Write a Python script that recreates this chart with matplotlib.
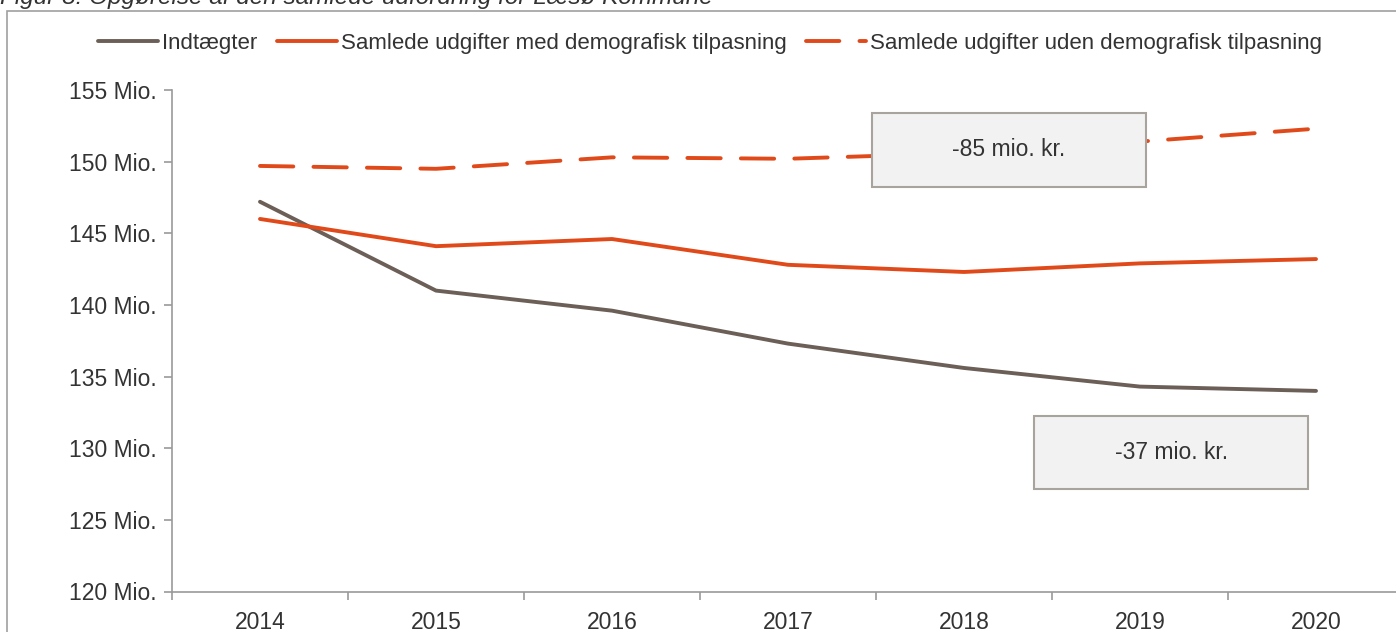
import matplotlib
matplotlib.use("Agg")
import matplotlib.pyplot as plt
from matplotlib.patches import Rectangle

plt.rcParams['font.family'] = ['Liberation Sans', 'DejaVu Sans']
plt.rcParams['lines.scale_dashes'] = False

years = ['2014', '2015', '2016', '2017', '2018', '2019', '2020']
indtaegter = [147.2, 141.0, 139.6, 137.3, 135.6, 134.3, 134.0]
udgifter_med = [146.0, 144.1, 144.6, 142.8, 142.3, 142.9, 143.2]
udgifter_uden = [149.7, 149.5, 150.3, 150.2, 150.6, 151.4, 152.3]
series_labels = ['Indtægter',
                 'Samlede udgifter med demografisk tilpasning',
                 'Samlede udgifter uden demografisk tilpasning']
yticks = [120, 125, 130, 135, 140, 145, 150, 155]
box_texts = ['-85 mio. kr.', '-37 mio. kr.']
title = 'Figur 8: Opgørelse af den samlede udfordring for Læsø Kommune'

W, H = 1396, 632
fig = plt.figure(figsize=(W / 100, H / 100), dpi=100)
FS = 16.5
TXT = '#333333'
GRAY = '#6b5f57'
ORANGE = '#e04a1a'
AX = '#9a9a9a'

def fx(px):
    return px / W

def fy(py):
    return 1 - py / H

# outer frame
fig.patches.append(Rectangle((fx(7.5), -0.1), 1.2, fy(10.5) + 0.1, transform=fig.transFigure,
                             fill=False, edgecolor='#a0a0a0', linewidth=1.2, zorder=0))
fig.text(fx(0), fy(4), title, fontsize=17.5, style='italic', color=TXT, ha='left', va='baseline')

left, bottom, top = 172, 591.5, 90
ax = fig.add_axes([fx(left), fy(bottom), fx(176 * 7), (bottom - top) / H])
x = list(range(len(years)))
lw = 2.8
ax.plot(x, indtaegter, color=GRAY, lw=lw, solid_capstyle='round', label=series_labels[0], zorder=3)
ax.plot(x, udgifter_med, color=ORANGE, lw=lw, solid_capstyle='round', label=series_labels[1], zorder=3)
ax.plot(x, udgifter_uden, color=ORANGE, lw=lw, dash_capstyle='round', dashes=(24, 14.5),
        label=series_labels[2], zorder=3)

ax.set_xlim(-0.5, len(years) - 0.5)
ax.set_ylim(120, 155)
ax.set_yticks(yticks)
ax.set_yticklabels([f'{v} Mio.' for v in yticks])
ax.set_xticks(x)
ax.set_xticklabels(years)
ax.set_xticks([i - 0.5 for i in range(len(years) + 1)], minor=True)
ax.tick_params(axis='x', which='major', length=0, pad=14, labelsize=FS, labelcolor=TXT)
ax.tick_params(axis='x', which='minor', length=6, width=1.2, color=AX, direction='out')
ax.tick_params(axis='y', length=6, width=1.2, color=AX, pad=5, labelsize=FS, labelcolor=TXT)
for s in ['top', 'right']:
    ax.spines[s].set_visible(False)
for s in ['left', 'bottom']:
    ax.spines[s].set_color(AX)
    ax.spines[s].set_linewidth(1.2)

# annotation boxes
boxes = [((3.477, 148.23), 5.034 - 3.477, 153.4 - 148.23),
         ((4.398, 127.16), 5.955 - 4.398, 132.25 - 127.16)]
for (xy, w, h), t in zip(boxes, box_texts):
    ax.add_patch(Rectangle(xy, w, h, facecolor='#f2f2f2', edgecolor='#a9a39d', linewidth=1.5, zorder=5))
    ax.text(xy[0] + w / 2, xy[1] + h / 2, t, ha='center', va='center', fontsize=FS, color=TXT, zorder=6)

fig.legend(loc='center', bbox_to_anchor=(fx(710), fy(43)), ncol=3, frameon=False,
           fontsize=16, handlelength=2.7, handletextpad=0.2, columnspacing=0.85,
           labelcolor=TXT)

fig.savefig('out.png', dpi=100)
